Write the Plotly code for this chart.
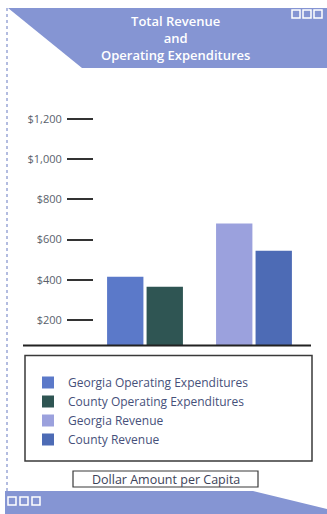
import plotly.graph_objects as go

W, H = 327, 514

# ---- data ----
groups = ["Operating Expenditures", "Revenue"]
series_names = ["Georgia Operating Expenditures", "County Operating Expenditures",
                "Georgia Revenue", "County Revenue"]
series_group = ["Operating Expenditures", "Operating Expenditures", "Revenue", "Revenue"]
series_slot = ["georgia", "county", "georgia", "county"]
series_values = [415, 365, 680, 545]
series_colors = ["#5b79c9", "#2f5553", "#9ba1dd", "#4d6bb5"]
tick_values = [200, 400, 600, 800, 1000, 1200]
tick_labels = ["$200", "$400", "$600", "$800", "$1,000", "$1,200"]
title_text = "Total Revenue<br>and<br>Operating Expenditures"
axis_caption = "Dollar Amount per Capita"

BAND = "#8595d3"

def px(x):
    return x / W

def py(y):
    return 1 - y / H

fig = go.Figure()
for name, grp, slot, val, col in zip(series_names, series_group, series_slot,
                                      series_values, series_colors):
    fig.add_trace(go.Bar(
        x=[grp], y=[val], name=name, offsetgroup=slot,
        marker=dict(color=col, line=dict(width=0)),
        hoverinfo="name+y",
    ))

shapes = []
# top banner
shapes.append(dict(type="path", xref="paper", yref="paper",
                   path=f"M {px(8)},{py(8)} L {px(327)},{py(8)} L {px(327)},{py(68)} L {px(82)},{py(68)} Z",
                   fillcolor=BAND, line=dict(width=0), layer="below"))
# bottom banner
shapes.append(dict(type="path", xref="paper", yref="paper",
                   path=f"M {px(5)},{py(491)} L {px(253)},{py(491)} L {px(327)},{py(509)} L {px(327)},{py(514)} L {px(5)},{py(514)} Z",
                   fillcolor=BAND, line=dict(width=0), layer="below"))
# left frame border
shapes.append(dict(type="line", xref="paper", yref="paper",
                   x0=px(7), x1=px(7), y0=py(8), y1=py(491),
                   line=dict(color="#9aa6d6", width=1.5, dash="dot")))
# top-right squares
for x0 in [292, 303, 314]:
    shapes.append(dict(type="rect", xref="paper", yref="paper",
                       x0=px(x0), x1=px(x0 + 8), y0=py(10), y1=py(18),
                       line=dict(color="white", width=1.5), fillcolor=BAND))
# bottom-left squares
for x0 in [8, 20, 32]:
    shapes.append(dict(type="rect", xref="paper", yref="paper",
                       x0=px(x0), x1=px(x0 + 8), y0=py(497), y1=py(505),
                       line=dict(color="white", width=1.5), fillcolor=BAND))
# baseline
shapes.append(dict(type="line", xref="paper", yref="paper",
                   x0=px(23), x1=px(311), y0=py(345.5), y1=py(345.5),
                   line=dict(color="#222222", width=2)))
# legend box
shapes.append(dict(type="rect", xref="paper", yref="paper",
                   x0=px(25), x1=px(312), y0=py(355.5), y1=py(461),
                   line=dict(color="#3a3a3a", width=1.5)))
# caption box
shapes.append(dict(type="rect", xref="paper", yref="paper",
                   x0=px(73), x1=px(258), y0=py(471), y1=py(487),
                   line=dict(color="#3a3a3a", width=1.2)))

annotations = [
    dict(text=title_text, xref="paper", yref="paper", x=px(175), y=py(38),
         xanchor="center", yanchor="middle", showarrow=False, align="center",
         font=dict(family="Open Sans", size=13, color="white", weight=600)),
    dict(text=axis_caption, xref="paper", yref="paper", x=px(165.5), y=py(479),
         xanchor="center", yanchor="middle", showarrow=False,
         font=dict(family="Open Sans", size=12.5, color="#3c4258")),
]

fig.update_layout(
    width=W, height=H,
    margin=dict(l=0, r=0, t=0, b=0),
    paper_bgcolor="white", plot_bgcolor="white",
    barmode="group", bargap=0.275, bargroupgap=0.08,
    showlegend=True,
    legend=dict(x=px(28), y=py(368), xanchor="left", yanchor="top",
                bgcolor="rgba(0,0,0,0)", borderwidth=0,
                font=dict(family="Open Sans", size=12, color="#46507a"),
                tracegroupgap=0, itemclick=False),
    xaxis=dict(domain=[px(94), px(310)], range=[-0.468, 1.514],
               showticklabels=False, ticks="", showgrid=False, zeroline=False,
               showline=False, fixedrange=True),
    yaxis=dict(domain=[py(345), py(100)], range=[75.6, 1294.5],
               tickvals=tick_values, ticktext=tick_labels, ticks="outside",
               ticklen=26, tickwidth=1.5, tickcolor="#333333",
               ticklabelstandoff=3,
               tickfont=dict(family="Open Sans", size=11, color="#5a5f6c"),
               showgrid=False, zeroline=False, showline=False, fixedrange=True),
    shapes=shapes, annotations=annotations,
)

fig.write_html("out.html", config={"displayModeBar": False},
               post_script="document.body.style.margin='0';document.body.style.overflow='hidden';")
